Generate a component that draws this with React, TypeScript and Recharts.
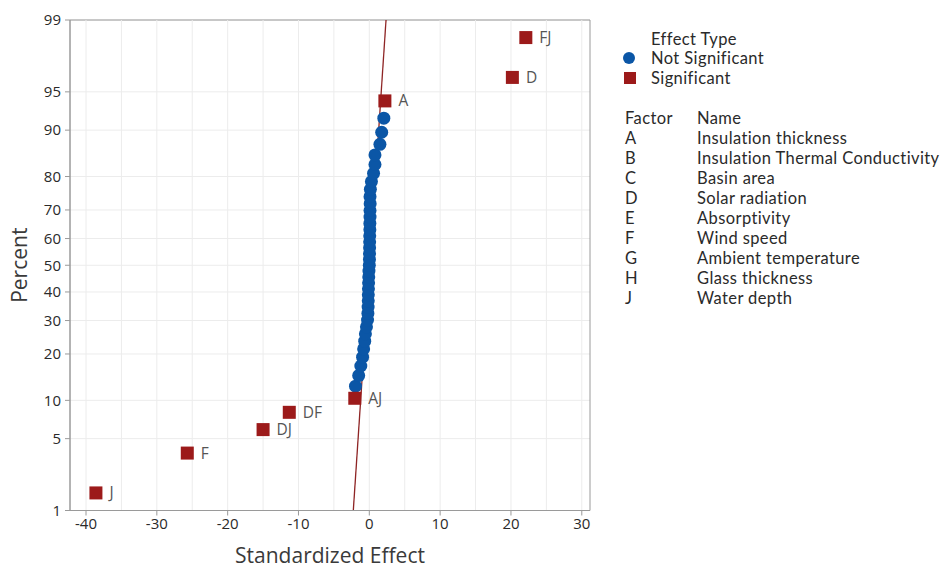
import React from 'react';
import {
  ScatterChart,
  Scatter,
  XAxis,
  YAxis,
  CartesianGrid,
  ReferenceLine,
  ReferenceArea,
  LabelList,
} from 'recharts';

// ---------- data ----------
const percentTicks = [1, 5, 10, 20, 30, 40, 50, 60, 70, 80, 90, 95, 99];
const effectTicks = [-40, -30, -20, -10, 0, 10, 20, 30];
const gridEffects = [-40, -35, -30, -25, -20, -15, -10, -5, 0, 5, 10, 15, 20, 25, 30];

const sigNames = ['J', 'F', 'DJ', 'DF', 'AJ', 'A', 'D', 'FJ'];
const sigEffects = [-38.6, -25.7, -15.0, -11.3, -2.05, 2.2, 20.2, 22.1];
const sigPercents = [1.54, 3.74, 5.95, 8.15, 10.35, 94.05, 96.26, 98.46];

const nsEffects = [
  -1.95, -1.5, -1.2, -0.95, -0.8, -0.65, -0.55, -0.4, -0.25, -0.2,
  -0.17, -0.15, -0.14, -0.12, -0.1, -0.08, -0.05, 0.0, 0.02, 0.03,
  0.04, 0.05, 0.06, 0.08, 0.08, 0.1, 0.1, 0.12, 0.1, 0.15,
  0.3, 0.6, 0.8, 0.8, 1.5, 1.75, 2.05,
];
const nsPercents = [
  12.56, 14.76, 16.96, 19.16, 21.37, 23.57, 25.77, 27.97, 30.18, 32.38,
  34.58, 36.78, 38.99, 41.19, 43.39, 45.59, 47.8, 50.0, 52.2, 54.41,
  56.61, 58.81, 61.01, 63.22, 65.42, 67.62, 69.82, 72.03, 74.23, 76.43,
  78.63, 80.84, 83.04, 85.24, 87.44, 89.65, 91.85,
];

const fitEffects = [-2.26, 2.36];
const fitPercents = [1, 99];

const factorCodes = ['A', 'B', 'C', 'D', 'E', 'F', 'G', 'H', 'J'];
const factorNames = [
  'Insulation thickness',
  'Insulation Thermal Conductivity',
  'Basin area',
  'Solar radiation',
  'Absorptivity',
  'Wind speed',
  'Ambient temperature',
  'Glass thickness',
  'Water depth',
];

// ---------- probability scale helper (inverse normal CDF) ----------
function invNorm(p: number): number {
  const a = [-39.69683028665376, 220.9460984245205, -275.9285104469687, 138.357751867269, -30.66479806614716, 2.506628277459239];
  const b = [-54.47609879822406, 161.5858368580409, -155.6989798598866, 66.80131188771972, -13.28068155288572];
  const c = [-0.007784894002430293, -0.3223964580411365, -2.400758277161838, -2.549732539343734, 4.374664141464968, 2.938163982698783];
  const d = [0.007784695709041462, 0.3224671290700398, 2.445134137142996, 3.754408661907416];
  const pl = 0.02425;
  let q: number, r: number;
  if (p < pl) {
    q = Math.sqrt(-2 * Math.log(p));
    return (((((c[0] * q + c[1]) * q + c[2]) * q + c[3]) * q + c[4]) * q + c[5]) /
      ((((d[0] * q + d[1]) * q + d[2]) * q + d[3]) * q + 1);
  }
  if (p <= 1 - pl) {
    q = p - 0.5;
    r = q * q;
    return (((((a[0] * r + a[1]) * r + a[2]) * r + a[3]) * r + a[4]) * r + a[5]) * q /
      (((((b[0] * r + b[1]) * r + b[2]) * r + b[3]) * r + b[4]) * r + 1);
  }
  q = Math.sqrt(-2 * Math.log(1 - p));
  return -(((((c[0] * q + c[1]) * q + c[2]) * q + c[3]) * q + c[4]) * q + c[5]) /
    ((((d[0] * q + d[1]) * q + d[2]) * q + d[3]) * q + 1);
}

const sigData = sigNames.map((n, i) => ({ x: sigEffects[i], y: invNorm(sigPercents[i] / 100), name: n }));
const nsData = nsEffects.map((e, i) => ({ x: e, y: invNorm(nsPercents[i] / 100) }));
const yTicks = percentTicks.map((p) => invNorm(p / 100));
const yMin = invNorm(percentTicks[0] / 100);
const yMax = invNorm(percentTicks[percentTicks.length - 1] / 100);
const xMin = -42.26;
const xMax = 31.16;

const FONT = '"Open Sans", "Noto Sans", sans-serif';
const LEGFONT = 'Lato, "Open Sans", sans-serif';
const BLUE = '#0B56A6';
const RED = '#9C1A1A';
const TEXT = '#2a2a2a';
const TITLE = '#3a3a3a';
const LEG = 16.5;
const LEGSP = 0.4;

const yTickLabel = (v: number) => {
  const idx = yTicks.findIndex((t) => Math.abs(t - v) < 1e-6);
  return idx >= 0 ? String(percentTicks[idx]) : '';
};

const Square = (props: any) => {
  const { cx, cy } = props;
  if (cx == null || cy == null) return null;
  return <rect x={cx - 6.5} y={cy - 6.5} width={13} height={13} fill={RED} />;
};

const Dot = (props: any) => {
  const { cx, cy } = props;
  if (cx == null || cy == null) return null;
  return <circle cx={cx} cy={cy} r={6.5} fill={BLUE} />;
};

export default function App() {
  return (
    <div style={{ position: 'absolute', left: 0, top: 0, width: 941, height: 569, background: '#fff', fontFamily: FONT }}>
      <ScatterChart width={941} height={569} margin={{ top: 20, right: 351, bottom: 0, left: 0 }}>
        <CartesianGrid vertical={false} stroke="#ececec" />
        {gridEffects.map((g) => (
          <ReferenceLine key={g} x={g} stroke="#ececec" ifOverflow="visible" />
        ))}
        <ReferenceArea x1={xMin} x2={xMax} y1={yMin} y2={yMax} fill="none" stroke="#9a9a9a" ifOverflow="visible" />
        <XAxis
          type="number"
          dataKey="x"
          domain={[xMin, xMax]}
          ticks={effectTicks}
          allowDataOverflow
          height={58.5}
          stroke="#9a9a9a"
          tickSize={5}
          tickMargin={3}
          tick={{ fill: TEXT, fontSize: 15, fontFamily: FONT }}
          label={{
            content: (p: any) => {
              const vb = p.viewBox || { x: 0, width: 0 };
              const cx = vb.x + vb.width / 2;
              return (
                <text x={cx} y={563} textAnchor="middle" fill={TITLE} fontSize={21} fontFamily={FONT}>
                  Standardized Effect
                </text>
              );
            },
          }}
        />
        <YAxis
          type="number"
          dataKey="y"
          domain={[yMin, yMax]}
          ticks={yTicks}
          allowDataOverflow
          width={70}
          stroke="#9a9a9a"
          tickSize={5}
          tickMargin={4}
          tickFormatter={yTickLabel}
          tick={{ fill: TEXT, fontSize: 15, fontFamily: FONT }}
          label={{
            content: (p: any) => {
              const vb = p.viewBox || { x: 0, y: 0, height: 0 };
              const cy = vb.y + vb.height / 2;
              return (
                <text x={19} y={cy} transform={`rotate(-90 19 ${cy})`} textAnchor="middle" dominantBaseline="central" fill={TITLE} fontSize={21} fontFamily={FONT}>
                  Percent
                </text>
              );
            },
          }}
        />
        <ReferenceLine
          segment={[
            { x: fitEffects[0], y: invNorm(fitPercents[0] / 100) },
            { x: fitEffects[1], y: invNorm(fitPercents[1] / 100) },
          ]}
          stroke="#8E2424"
          strokeWidth={1.3}
          ifOverflow="visible"
        />
        <Scatter data={nsData} shape={Dot} isAnimationActive={false} />
        <Scatter data={sigData} shape={Square} isAnimationActive={false}>
          <LabelList dataKey="name" position="right" offset={9} fill="#555" fontSize={15.5} fontFamily={FONT} />
        </Scatter>
      </ScatterChart>
      <svg width={341} height={330} style={{ position: 'absolute', left: 600, top: 0 }} fontFamily={LEGFONT} letterSpacing={LEGSP}>
        <text x={51} y={45} fontSize={LEG} fill={TEXT}>Effect Type</text>
        <circle cx={29} cy={58} r={6} fill={BLUE} />
        <text x={51} y={64} fontSize={LEG} fill={TEXT}>Not Significant</text>
        <rect x={24} y={72} width={12} height={12} fill={RED} />
        <text x={51} y={84} fontSize={LEG} fill={TEXT}>Significant</text>
        <text x={25} y={124} fontSize={LEG} fill={TEXT}>Factor</text>
        <text x={97} y={124} fontSize={LEG} fill={TEXT}>Name</text>
        {factorCodes.map((c, i) => (
          <g key={c}>
            <text x={25} y={144 + i * 20} fontSize={LEG} fill={TEXT}>{c}</text>
            <text x={97} y={144 + i * 20} fontSize={LEG} fill={TEXT}>{factorNames[i]}</text>
          </g>
        ))}
      </svg>
    </div>
  );
}
